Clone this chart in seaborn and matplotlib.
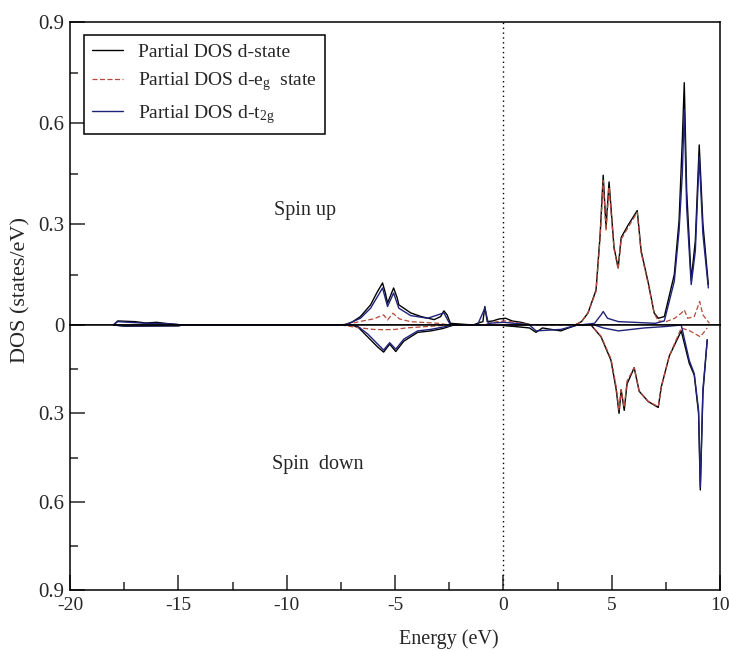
import matplotlib
matplotlib.use("Agg")
import matplotlib.pyplot as plt
from matplotlib.ticker import MultipleLocator, FixedLocator, FixedFormatter
import seaborn as sns

# ---------------- data ----------------
# Spin up
E_up_d = [-18.0, -17.8, -17.0, -16.5, -16.0, -15.5, -14.8, -7.4, -7.0, -6.6, -6.13, -5.85, -5.58, -5.45,
          -5.35, -5.07, -4.9, -4.83, -4.28, -3.8, -3.2, -2.9, -2.75, -2.6, -2.45, -1.4, -1.2, -0.95,
          -0.86, -0.75, -0.5, -0.2, 0.1, 0.4, 0.8, 1.3, 3.3, 3.6, 3.9, 4.27, 4.46, 4.6, 4.73, 4.87,
          5.1, 5.29, 5.43, 5.75, 6.17, 6.35, 6.68, 6.95, 7.14, 7.42, 7.88, 8.1, 8.25, 8.34, 8.45,
          8.66, 8.85, 9.03, 9.2, 9.45]
V_up_d = [0.0, 0.012, 0.01, 0.006, 0.008, 0.004, 0.0, 0.0, 0.008, 0.025, 0.06, 0.095, 0.125, 0.095,
          0.065, 0.11, 0.08, 0.06, 0.036, 0.025, 0.016, 0.025, 0.042, 0.03, 0.005, 0.0, 0.005, 0.01,
          0.055, 0.01, 0.012, 0.018, 0.02, 0.012, 0.008, 0.0, 0.0, 0.01, 0.036, 0.104, 0.27, 0.445, 0.29, 0.425,
          0.23, 0.17, 0.26, 0.297, 0.34, 0.22, 0.125, 0.036, 0.02, 0.025, 0.15, 0.31, 0.55, 0.72, 0.4,
          0.134, 0.25, 0.535, 0.3, 0.12]

E_up_eg = [-7.6, -7.0, -6.5, -6.0, -5.53, -5.35, -5.1, -4.8, -4.3, -3.8, -3.0, -2.5, -1.0, -0.3, 0.1,
           0.8, 1.3, 3.3, 3.6, 3.9, 4.27, 4.46, 4.6, 4.73, 4.87, 5.1, 5.29, 5.43, 5.75, 6.17, 6.35,
           6.68, 6.95, 7.14, 7.5, 7.9, 8.2, 8.34, 8.5, 8.8, 9.05, 9.2, 9.5]
V_up_eg = [0.0, 0.005, 0.012, 0.018, 0.03, 0.015, 0.035, 0.018, 0.01, 0.008, 0.005, 0.0, 0.0, 0.01, 0.012,
           0.005, 0.0, 0.0, 0.01, 0.036, 0.1, 0.26, 0.43, 0.28, 0.41, 0.225, 0.165, 0.255, 0.29, 0.335, 0.215,
           0.12, 0.035, 0.012, 0.01, 0.02, 0.035, 0.045, 0.02, 0.025, 0.07, 0.03, 0.005]

E_up_t2g = [-18.0, -17.8, -16.5, -15.5, -14.8, -7.3, -6.6, -6.13, -5.58, -5.35, -5.07, -4.83, -4.28,
            -3.5, -2.75, -2.45, -1.2, -0.86, -0.7, 0.0, 1.3, 3.5, 4.2, 4.5, 4.6, 4.8, 5.3, 6.0, 7.0,
            7.42, 7.88, 8.1, 8.25, 8.34, 8.45, 8.66, 8.85, 9.03, 9.2, 9.45]
V_up_t2g = [0.0, 0.01, 0.005, 0.004, 0.0, 0.0, 0.02, 0.05, 0.11, 0.055, 0.095, 0.05, 0.028,
            0.02, 0.036, 0.0, 0.0, 0.05, 0.005, 0.008, 0.0, 0.0, 0.005, 0.03, 0.04, 0.02, 0.01, 0.008, 0.005,
            0.012, 0.13, 0.28, 0.45, 0.64, 0.35, 0.12, 0.22, 0.5, 0.27, 0.11]

# Spin down (plotted on an inverted axis)
E_dn_d = [-18.0, -17.5, -15.0, -14.8, -7.0, -6.7, -6.27, -5.8, -5.53, -5.25, -4.97, -4.6, -3.96, -3.36,
          -2.8, -2.3, -0.3, 0.5, 1.2, 1.5, 1.8, 2.2, 2.65, 3.0, 3.4, 4.04, 4.5, 4.96, 5.2, 5.33, 5.43,
          5.57, 5.7, 6.03, 6.26, 6.68, 7.14, 7.28, 7.65, 8.2, 8.57, 8.8, 9.0, 9.08, 9.2, 9.4]
V_dn_d = [0.0, 0.004, 0.003, 0.0, 0.0, 0.008, 0.04, 0.075, 0.092, 0.065, 0.09, 0.055, 0.025, 0.02,
          0.012, 0.0, 0.0, 0.005, 0.01, 0.025, 0.01, 0.015, 0.02, 0.01, 0.0, 0.0, 0.04, 0.12, 0.22, 0.3, 0.22,
          0.29, 0.2, 0.145, 0.225, 0.26, 0.28, 0.21, 0.105, 0.02, 0.13, 0.17, 0.3, 0.56, 0.23, 0.05]

E_dn_eg = [-7.5, -6.8, -6.0, -5.5, -5.0, -4.5, -3.5, -2.5, 4.04, 4.5, 4.96, 5.2, 5.33, 5.43, 5.57, 5.7,
           6.03, 6.26, 6.68, 7.14, 7.28, 7.65, 8.2, 8.6, 9.08, 9.4]
V_dn_eg = [0.0, 0.008, 0.015, 0.016, 0.015, 0.01, 0.005, 0.0, 0.0, 0.038, 0.115, 0.21, 0.29, 0.22, 0.28, 0.19,
           0.145, 0.225, 0.26, 0.277, 0.21, 0.105, 0.01, 0.02, 0.04, 0.01]

E_dn_t2g = [-18.0, -17.5, -15.0, -14.8, -6.8, -6.27, -5.8, -5.53, -5.25, -4.97, -4.6, -3.96, -3.36, -2.3,
            1.2, 1.5, 2.65, 3.4, 4.2, 4.6, 5.3, 6.5, 7.5, 8.2, 8.57, 8.8, 9.0, 9.08, 9.2, 9.4]
V_dn_t2g = [0.0, 0.003, 0.002, 0.0, 0.0, 0.03, 0.065, 0.085, 0.06, 0.082, 0.048, 0.02, 0.015, 0.0,
            0.0, 0.02, 0.015, 0.0, 0.0, 0.01, 0.02, 0.01, 0.005, 0.0, 0.12, 0.165, 0.29, 0.55, 0.22, 0.05]

labels = ["Partial DOS d-state",
          r"Partial DOS d-e$_\mathrm{g}$  state",
          r"Partial DOS d-t$_\mathrm{2g}$"]
y_ticks = [0.0, 0.3, 0.6, 0.9]
y_ticklabels_up = ["0", "0.3", "0.6", "0.9"]
y_ticklabels_dn = ["", "0.3", "0.6", "0.9"]
x_ticks = [-20, -15, -10, -5, 0, 5, 10]

# ---------------- style ----------------
sns.set_theme(style="white")
plt.rcParams["font.family"] = ["Liberation Serif", "DejaVu Serif"]
plt.rcParams["mathtext.fontset"] = "custom"
plt.rcParams["mathtext.rm"] = "Liberation Serif"
plt.rcParams["mathtext.it"] = "Liberation Serif:italic"
plt.rcParams["axes.edgecolor"] = "black"
plt.rcParams["axes.linewidth"] = 1.1

C_D = "#000000"
C_EG = "#b5493a"
C_T2G = "#1f237a"
LW = 1.0

fig = plt.figure(figsize=(7.29, 6.5), dpi=100)
ax_up = fig.add_axes([0.096, 0.5, 0.892, 0.466])
ax_dn = fig.add_axes([0.096, 0.0923, 0.892, 0.4077])

def draw(ax, Ed, Vd, Ee, Ve, Et, Vt, with_label):
    sns.lineplot(x=Ed, y=Vd, ax=ax, color=C_D, lw=LW, sort=False, estimator=None,
                 label=labels[0] if with_label else None)
    sns.lineplot(x=Ee, y=Ve, ax=ax, color=C_EG, lw=0.9, sort=False, estimator=None,
                 dashes=False, linestyle=(0, (4, 2)),
                 label=labels[1] if with_label else None)
    sns.lineplot(x=Et, y=Vt, ax=ax, color=C_T2G, lw=LW, sort=False, estimator=None,
                 label=labels[2] if with_label else None)
    ax.axvline(0, color="black", lw=1.0, ls=(0, (1, 2.5)))
    ax.set_xlim(-20, 10)
    ax.set_xlabel("")
    ax.set_ylabel("")
    ax.yaxis.set_major_locator(FixedLocator(y_ticks))
    ax.yaxis.set_minor_locator(MultipleLocator(0.15))
    ax.tick_params(axis="y", which="major", direction="in", length=10.8, width=1.1,
                   left=True, right=False, labelsize=15, pad=4)
    ax.tick_params(axis="y", which="minor", direction="in", length=5.8, width=1.1,
                   left=True, right=False)

draw(ax_up, E_up_d, V_up_d, E_up_eg, V_up_eg, E_up_t2g, V_up_t2g, True)
draw(ax_dn, E_dn_d, V_dn_d, E_dn_eg, V_dn_eg, E_dn_t2g, V_dn_t2g, False)

ax_up.set_ylim(0, 0.9)
ax_up.yaxis.set_major_formatter(FixedFormatter(y_ticklabels_up))
ax_up.tick_params(axis="x", which="both", bottom=False, top=False, labelbottom=False)

ax_dn.set_ylim(0.9, 0)
ax_dn.yaxis.set_major_formatter(FixedFormatter(y_ticklabels_dn))
ax_dn.xaxis.set_major_locator(FixedLocator(x_ticks))
ax_dn.xaxis.set_minor_locator(MultipleLocator(2.5))
ax_dn.set_xticklabels([str(t) for t in x_ticks])
ax_dn.tick_params(axis="x", which="major", direction="in", length=11, width=1.1,
                  bottom=True, top=False, labelsize=14, pad=5)
ax_dn.tick_params(axis="x", which="minor", direction="in", length=5.8, width=1.1,
                  bottom=True, top=False)

leg = ax_up.legend(loc="upper left", bbox_to_anchor=(0.0215, 0.957), borderaxespad=0,
                   frameon=True, fancybox=False, framealpha=1, edgecolor="black",
                   fontsize=14, handlelength=1.6, handletextpad=0.8, labelspacing=0.5,
                   borderpad=0.4)
leg.get_frame().set_linewidth(1.1)

ax_up.text(-10.57, 0.34, "Spin up", fontsize=14.5, ha="left", va="center")
ax_dn.text(-10.66, 0.474, "Spin  down", fontsize=14.5, ha="left", va="center")

fig.text(0.615, 0.016, "Energy (eV)", fontsize=14.5, ha="center", va="center")
fig.text(0.028, 0.554, "DOS (states/eV)", fontsize=16, rotation=90, ha="center", va="center")

fig.savefig("out.png", dpi=100)
